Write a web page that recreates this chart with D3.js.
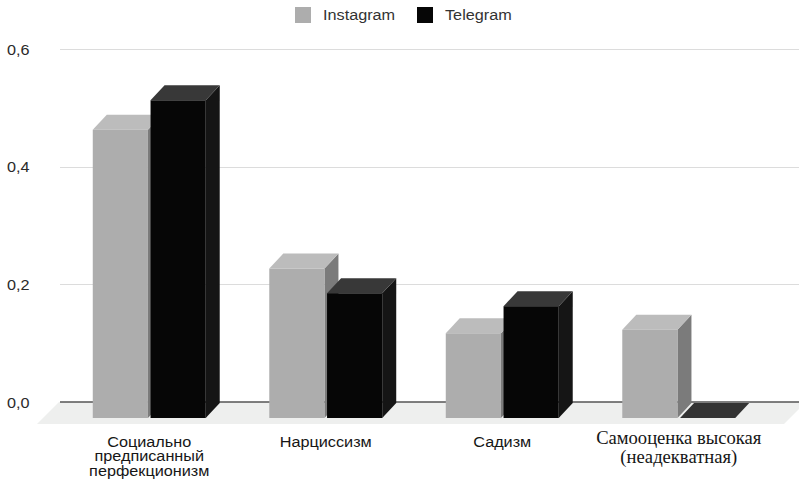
<!DOCTYPE html>
<html>
<head>
<meta charset="utf-8">
<script src="https://cdn.jsdelivr.net/npm/d3@7"></script>
<style>
  html, body { margin: 0; padding: 0; background: #fff; }
  svg { display: block; }
</style>
</head>
<body>
<div id="chart"></div>
<script>
// data
const categories = [
  ['Социально', 'предписанный', 'перфекционизм'],
  ['Нарциссизм'],
  ['Садизм'],
  ['Самооценка высокая', '(неадекватная)']
];
const series     = ['Instagram', 'Telegram'];
const instagram  = [0.49, 0.254, 0.144, 0.15];
const telegram   = [0.54, 0.212, 0.19, 0];
const yTicks     = [0, 0.2, 0.4, 0.6];
const yTickLabels = ['0,0', '0,2', '0,4', '0,6'];

const width = 799, height = 485;

// colours per series: front / top / side
const faces = {
  Instagram: { front: '#adadad', top: '#bcbcbc', side: '#7b7b7b' },
  Telegram:  { front: '#060606', top: '#383838', side: '#151515' }
};

const depthX = 14, depthY = 15, floorDrop = 16;
const sans = 'Liberation Sans, Arial, Helvetica, sans-serif';
const serifFont = 'Liberation Serif, Times New Roman, serif';
const stretch = 1.12;   // the sans text in the picture is a bit wide

const svg = d3.select('#chart').append('svg')
  .attr('width', width)
  .attr('height', height)
  .attr('viewBox', [0, 0, width, height]);

const y = d3.scaleLinear().domain([0, 0.6]).range([402, 49]);
const keys = categories.map((c, i) => 'c' + i);
const x = d3.scaleBand().domain(keys).range([61, 767]).paddingInner(0.36).paddingOuter(0.18);
const xInner = d3.scaleBand().domain(series).range([0, x.bandwidth()]).paddingInner(0.045);

// ── grid ────────────────────────────────────────────
const grid = svg.append('g').attr('id', 'grid');
grid.selectAll('line')
  .data(yTicks.filter(d => d > 0))
  .join('line')
  .attr('x1', 60).attr('x2', width)
  .attr('y1', d => Math.round(y(d)) + 0.5).attr('y2', d => Math.round(y(d)) + 0.5)
  .attr('stroke', '#dcdcdc').attr('stroke-width', 1.2);

// floor
const y0 = y(0);
svg.append('path')
  .attr('d', `M${59},${y0} L${806},${y0} L${784},${y0 + 22} L${37},${y0 + 22} Z`)
  .attr('fill', '#eeefee');

svg.append('line')
  .attr('x1', 60).attr('x2', width)
  .attr('y1', y0).attr('y2', y0)
  .attr('stroke', '#555').attr('stroke-width', 1.3);

// y labels
svg.append('g').selectAll('text')
  .data(yTicks)
  .join('text')
  .attr('transform', d => `translate(7,${y(d) + 5.5}) scale(${stretch},1)`)
  .attr('font-family', sans)
  .attr('font-size', 14.5)
  .attr('fill', '#2a2a2a')
  .text((d, i) => yTickLabels[i]);

// ── bars ────────────────────────────────────────────
const rows = [];
categories.forEach((c, i) => {
  rows.push({ key: keys[i], s: 'Instagram', v: instagram[i] });
  rows.push({ key: keys[i], s: 'Telegram', v: telegram[i] });
});

const bars = svg.append('g').attr('id', 'bars')
  .selectAll('g')
  .data(rows)
  .join('g');

bars.each(function(d) {
  const g = d3.select(this);
  const c = faces[d.s];
  const x0 = x(d.key) + xInner(d.s);
  const x1 = x0 + xInner.bandwidth();
  const yb = y0 + floorDrop;
  const yt = y(d.v) + floorDrop;
  // side
  g.append('path')
    .attr('d', `M${x1},${yt} L${x1 + depthX},${yt - depthY} L${x1 + depthX},${yb - depthY} L${x1},${yb} Z`)
    .attr('fill', c.side);
  // top
  g.append('path')
    .attr('d', `M${x0},${yt} L${x0 + depthX},${yt - depthY} L${x1 + depthX},${yt - depthY} L${x1},${yt} Z`)
    .attr('fill', d.v === 0 ? '#333' : c.top);
  // front
  if (d.v > 0) {
    g.append('rect')
      .attr('x', x0).attr('y', yt)
      .attr('width', x1 - x0).attr('height', yb - yt)
      .attr('fill', c.front);
  }
});

// ── category labels ─────────────────────────────────
const labels = svg.append('g').attr('id', 'labels');
categories.forEach((lines, i) => {
  const cx = x(keys[i]) + x.bandwidth() / 2;
  const serif = i === 3;
  const t = labels.append('text')
    .attr('text-anchor', 'middle')
    .attr('transform', serif ? `translate(${cx},443.5)` : `translate(${cx},446.5) scale(${stretch},1)`)
    .attr('font-family', serif ? serifFont : sans)
    .attr('font-size', serif ? 18.6 : 14.5)
    .attr('fill', '#161616');
  lines.forEach((ln, j) => {
    t.append('tspan')
      .attr('x', 0)
      .attr('y', serif ? j * 19 : j * 14.8)
      .text(ln);
  });
});

// ── legend ──────────────────────────────────────────
const legend = svg.append('g').attr('id', 'legend');
const legendX = [295, 417];
series.forEach((s, i) => {
  legend.append('rect')
    .attr('x', legendX[i]).attr('y', 7)
    .attr('width', 16).attr('height', 16)
    .attr('fill', faces[s].front);
  legend.append('text')
    .attr('transform', `translate(${legendX[i] + 28},20) scale(${stretch},1)`)
    .attr('font-family', sans)
    .attr('font-size', 14.5)
    .attr('fill', '#333')
    .text(s);
});
</script>
</body>
</html>
